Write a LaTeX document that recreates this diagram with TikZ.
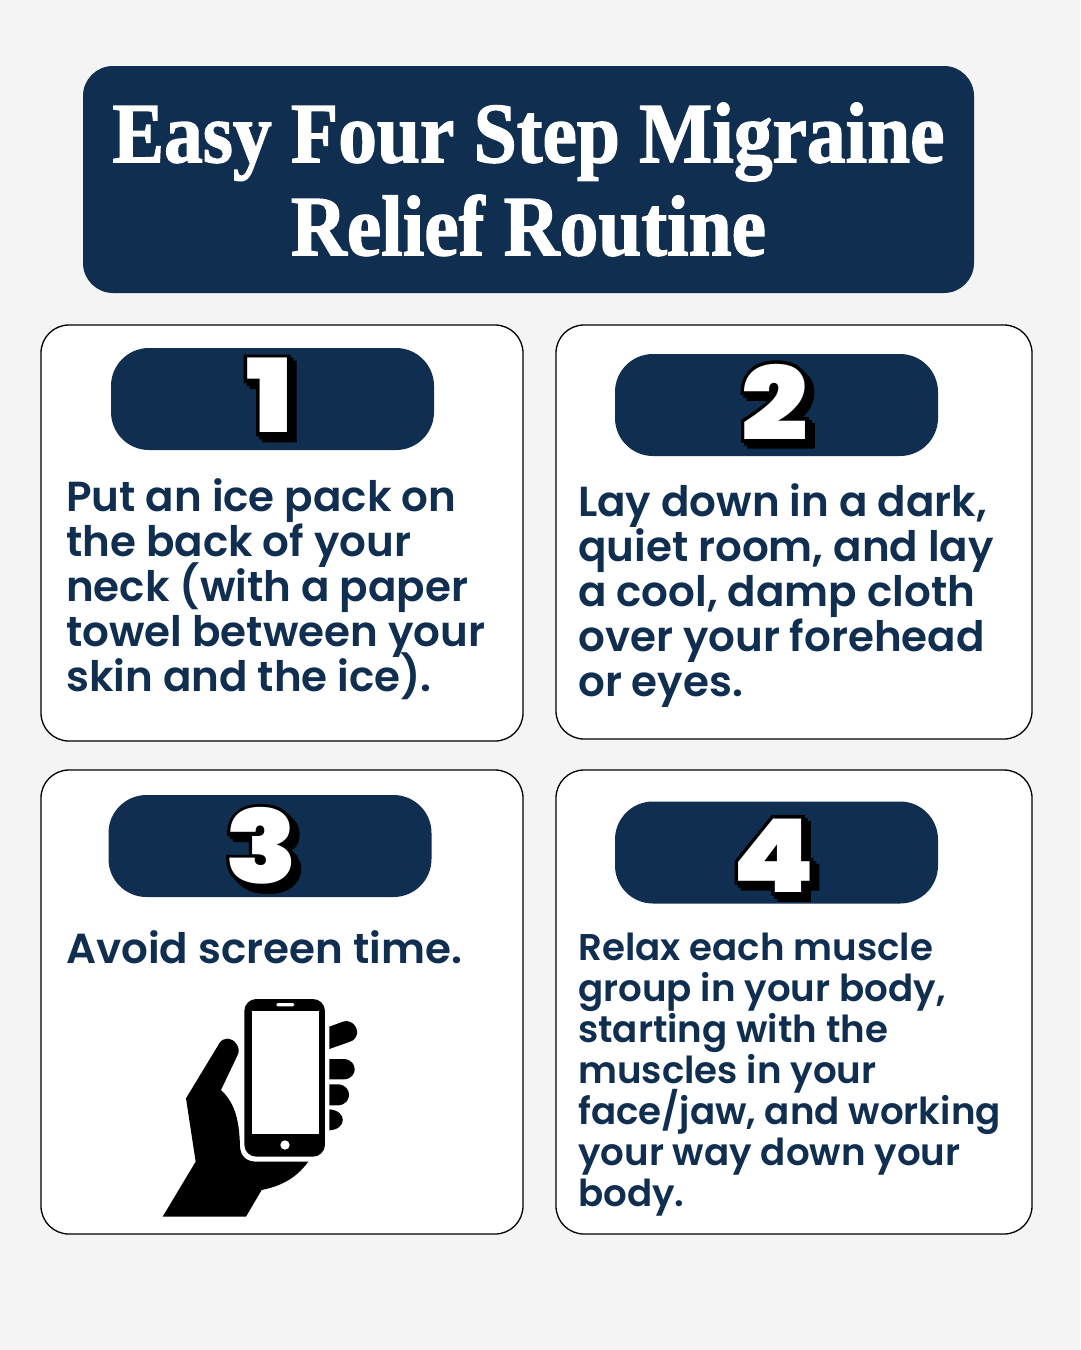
\documentclass[tikz,border=0pt]{standalone}
\usepackage{fontspec}
\setmainfont{Poppins SemiBold}
\newfontfamily\titlefont[FakeStretch=0.9,FakeBold=1.5]{Liberation Serif Bold}
\newfontfamily\numfont[FakeStretch=1.15]{Poppins Black}
\newfontfamily\numedge[FakeStretch=1.15,FakeBold=7]{Poppins Black}
\definecolor{navy}{HTML}{102E50}
\definecolor{paper}{HTML}{F4F4F4}
\lineskiplimit=-50pt
\newcommand{\stepnum}[3]{%
    \foreach \dd in {0,3,6} {
        \node[numtext, text=black, font=\numedge\fontsize{102}{102}\selectfont] at ([xshift=\dd pt, yshift=-\dd pt]#1) {#3};
    }
    \node[numtext, text=white] (#2) at (#1) {#3};
}
\begin{document}
\begin{tikzpicture}[
        x=1pt, y=-1pt,
        card/.style={draw=black, line width=1.3pt, fill=white, rounded corners=28pt, inner sep=0pt},
        pill/.style={fill=navy, rounded corners=38pt, inner sep=0pt, minimum width=323pt, minimum height=102pt},
        numtext/.style={font=\numfont\fontsize{102}{102}\selectfont, inner sep=0pt},
        body/.style={text=navy, anchor=north west, align=left, inner sep=0pt, font=\fontsize{42}{45}\selectfont},
        bodysmall/.style={body, font=\fontsize{37.2}{41}\selectfont}
    ]
    \useasboundingbox (0,0) rectangle (1080,1350);
    \fill[paper] (0,0) rectangle (1080,1350);

    % 1. Title
    \node[fill=navy, rounded corners=30pt, minimum width=891pt, minimum height=227pt, inner sep=0pt] (titlebox) at (528.5,179.5) {};
    \node[text=white, align=center, inner sep=0pt, font=\titlefont\fontsize{86}{93}\selectfont] (title) at (titlebox) {Easy Four Step Migraine\\Relief Routine};

    % 2. Cards
    \node[card, minimum width=482pt, minimum height=416pt] (cardone) at (282,533) {};
    \node[card, minimum width=476pt, minimum height=414pt] (cardtwo) at (794,532) {};
    \node[card, minimum width=482pt, minimum height=464pt] (cardthree) at (282,1002) {};
    \node[card, minimum width=476pt, minimum height=464pt] (cardfour) at (794,1002) {};

    % 3. Number pills
    \node[pill] (pillone) at (272.5,399) {};
    \node[pill] (pilltwo) at (776.5,405) {};
    \node[pill] (pillthree) at (270,846) {};
    \node[pill] (pillfour) at (776.5,852.5) {};
    \coordinate (posone) at (269.5,395.5);
    \coordinate (postwo) at (774.5,402);
    \coordinate (posthree) at (261.5,846);
    \coordinate (posfour) at (773.5,855.5);
    \stepnum{posone}{numone}{1}
    \stepnum{postwo}{numtwo}{2}
    \stepnum{posthree}{numthree}{3}
    \stepnum{posfour}{numfour}{4}

    % 4. Step texts
    \node[body] (textone) at (66,478) {Put an ice pack on\\the back of your\\neck (with a paper\\towel between your\\skin and the ice).};
    \node[body] (texttwo) at (578,483) {Lay down in a dark,\\quiet room, and lay\\a cool, damp cloth\\over your forehead\\or eyes.};
    \node[body] (textthree) at (66,930) {Avoid screen time.};
    \node[bodysmall] (textfour) at (578,933) {Relax each muscle\\group in your body,\\starting with the\\muscles in your\\face/jaw, and working\\your way down your\\body.};

    % 5. Hand and phone
    \begin{scope}[shift={(140,980)}, x=0.3333pt, y=-0.3333pt]
        \fill[black] (68,710) -- (167,545) -- (138,355) -- (238,190)
            .. controls (250,170) and (275,172) .. (288,190)
            .. controls (298,203) and (298,215) .. (293,225)
            -- (243,330)
            .. controls (280,365) and (298,410) .. (300,500)
            .. controls (302,530) and (320,545) .. (350,545)
            -- (505,545)
            .. controls (465,600) and (415,620) .. (365,630)
            -- (318,710) -- cycle;
        \fill[black] (568,140) -- (612,124)
            .. controls (640,118) and (660,150) .. (648,170)
            .. controls (642,182) and (632,185) .. (622,188)
            -- (568,207) -- cycle;
        \fill[black] (568,237) -- (612,237)
            .. controls (655,240) and (655,296) .. (612,298)
            -- (568,298) -- cycle;
        \fill[black] (568,313) -- (595,313)
            .. controls (638,316) and (638,373) .. (595,376)
            -- (568,376) -- cycle;
        \fill[black] (568,388)
            .. controls (622,392) and (622,448) .. (568,451)
            -- cycle;
        \fill[black, rounded corners=12pt] (313,57) rectangle (555,530);
        \fill[white] (335,92) rectangle (537,462);
        \fill[white, rounded corners=1.5pt] (409,69) rectangle (463,79);
        \fill[white] (435,495) circle (14);
    \end{scope}
\end{tikzpicture}
\end{document}
